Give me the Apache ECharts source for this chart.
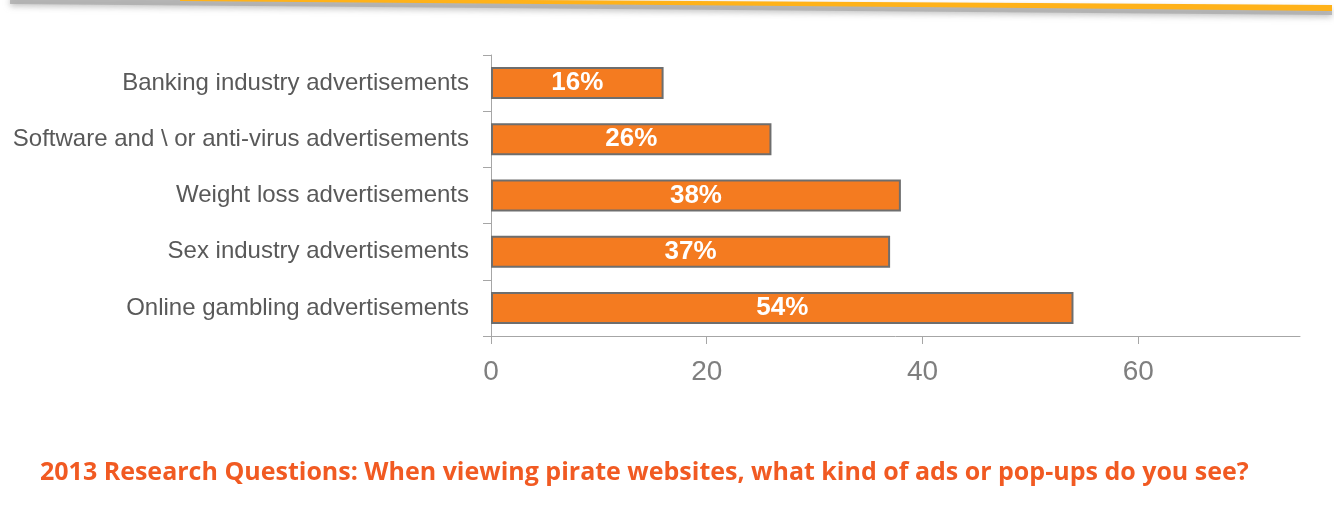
<!DOCTYPE html>
<html>
<head>
<meta charset="utf-8">
<script src="https://cdn.jsdelivr.net/npm/echarts@6/dist/echarts.min.js"></script>
<style>
  html, body { margin: 0; padding: 0; background: #fff; }
  #chart { width: 1334px; height: 507px; }
</style>
</head>
<body>
<div id="chart"></div>
<script>
const categories = [
  'Banking industry advertisements',
  'Software and \\ or anti-virus advertisements',
  'Weight loss advertisements',
  'Sex industry advertisements',
  'Online gambling advertisements'
]
const values = [16, 26, 38, 37, 54]
const xTicks = [0, 20, 40, 60]
const caption = '2013 Research Questions: When viewing pirate websites, what kind of ads or pop-ups do you see?'

const FONT = '"Liberation Sans", Arial, sans-serif'
const chart = echarts.init(document.getElementById('chart'))

chart.setOption({
  animation: false,
  grid: { left: 491, right: 34, top: 55, bottom: 171 },
  graphic: [
    // grey shadow under the banner stripe
    { type: 'polygon', shape: { points: [[10, -4], [1332, 7], [1332, 15], [10, 4]] },
      style: { fill: 'rgba(170,170,170,0.75)', shadowBlur: 6, shadowColor: 'rgba(150,150,150,0.8)', shadowOffsetY: 2 },
      silent: true },
    { type: 'polygon', shape: { points: [[180, -2], [1034, 3], [1332, 5], [1332, 11], [1034, 8], [180, 1]] },
      style: { fill: '#FFB219' }, silent: true },
    { type: 'text', left: 40, top: 460,
      style: { text: caption, fill: '#F15A22', font: 'bold 25px "Open Sans", sans-serif' } }
  ],
  xAxis: {
    type: 'value',
    min: 0,
    max: 75,
    interval: 20,
    splitLine: { show: false },
    axisLine: { show: true, lineStyle: { color: '#a6a6a6', width: 1 } },
    axisTick: { show: true, length: 8, customValues: xTicks, lineStyle: { color: '#a6a6a6' } },
    axisLabel: { customValues: xTicks, color: '#7f7f7f', fontSize: 28, fontFamily: FONT, margin: 22 }
  },
  yAxis: {
    type: 'category',
    data: categories,
    inverse: true,
    axisLine: { show: true, lineStyle: { color: '#a6a6a6' } },
    axisTick: { show: true, length: 8, lineStyle: { color: '#a6a6a6' } },
    axisLabel: { color: '#595959', fontSize: 24, fontFamily: FONT, margin: 22 }
  },
  series: [{
    type: 'bar',
    data: values,
    barWidth: 32,
    itemStyle: { color: '#F47B20', borderColor: '#6e6e6e', borderWidth: 2 },
    label: {
      show: true,
      position: 'inside',
      formatter: '{c}%',
      color: '#fff',
      fontSize: 26,
      fontWeight: 'bold',
      fontFamily: FONT
    }
  }]
})
</script>
</body>
</html>
